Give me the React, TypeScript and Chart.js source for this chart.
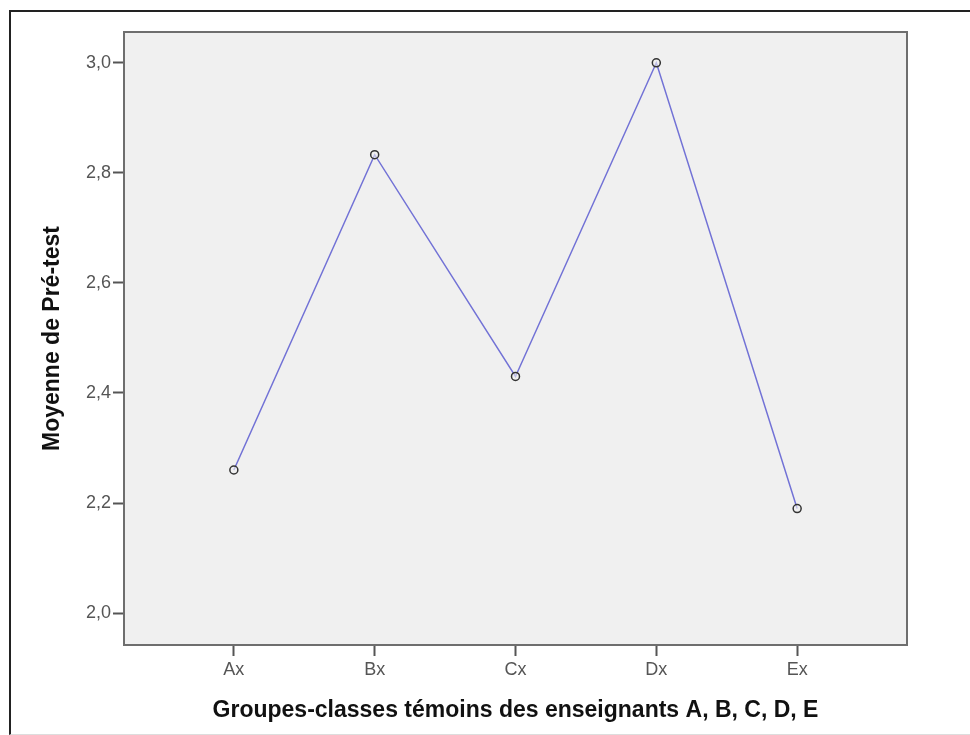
import React, { useEffect, useRef } from "react";
import { Chart, registerables } from "chart.js";

Chart.register(...registerables);

const categories = ["Ax", "Bx", "Cx", "Dx", "Ex"];
const means = [2.26, 2.833, 2.43, 3.0, 2.19];
const yTicks = [2.0, 2.2, 2.4, 2.6, 2.8, 3.0];
const xTitle = "Groupes-classes témoins des enseignants A, B, C, D, E";
const yTitle = "Moyenne de Pré-test";

const FONT = "'Liberation Sans', Arial, sans-serif";

const plotFrame = {
  id: "plotFrame",
  beforeDraw(chart: any) {
    const { ctx, chartArea } = chart;
    ctx.save();
    ctx.fillStyle = "#f0f0f0";
    ctx.fillRect(chartArea.left, chartArea.top, chartArea.right - chartArea.left, chartArea.bottom - chartArea.top);
    ctx.restore();
  },
  afterDatasetsDraw(chart: any) {
    const { ctx, chartArea } = chart;
    ctx.save();
    ctx.strokeStyle = "#6e6e6e";
    ctx.lineWidth = 2;
    ctx.strokeRect(chartArea.left, chartArea.top, chartArea.right - chartArea.left, chartArea.bottom - chartArea.top);
    ctx.restore();
  },
};

export default function App() {
  const ref = useRef<HTMLCanvasElement | null>(null);
  useEffect(() => {
    document.body.style.margin = "0";
    const canvas = ref.current;
    if (!canvas) return;
    const chart = new Chart(canvas, {
      type: "line",
      data: {
        datasets: [
          {
            data: means.map((v, i) => ({ x: i, y: v })),
            borderColor: "#7272d6",
            borderWidth: 1.5,
            pointRadius: 4,
            pointBorderColor: "#333333",
            pointBorderWidth: 1.5,
            pointBackgroundColor: "rgba(240,240,240,0.6)",
            tension: 0,
          },
        ],
      },
      options: {
        responsive: false,
        animation: false,
        events: [],
        layout: { padding: { left: 0, top: 32, right: 63, bottom: 0 } },
        plugins: { legend: { display: false }, tooltip: { enabled: false } },
        scales: {
          x: {
            type: "linear",
            min: -0.78,
            max: 4.78,
            afterBuildTicks: (s: any) => {
              s.ticks = categories.map((_, i) => ({ value: i }));
            },
            afterFit: (s: any) => {
              s.height = 90;
            },
            ticks: {
              callback: (v: any) => categories[Math.round(Number(v))] ?? "",
              font: { family: FONT, size: 18 },
              color: "#555555",
              padding: 3,
              maxRotation: 0,
              autoSkip: false,
            },
            grid: { drawOnChartArea: false, tickLength: 11, color: "#555555", tickWidth: 2 },
            border: { display: false },
            title: {
              display: true,
              text: xTitle,
              font: { family: FONT, size: 23, weight: "bold" },
              color: "#111111",
              padding: { top: 0, bottom: 11 },
            },
          },
          y: {
            type: "linear",
            min: 1.942,
            max: 3.056,
            afterBuildTicks: (s: any) => {
              s.ticks = yTicks.map((v) => ({ value: v }));
            },
            afterFit: (s: any) => {
              s.width = 124;
            },
            ticks: {
              callback: (v: any) => Number(v).toFixed(1).replace(".", ","),
              font: { family: FONT, size: 18 },
              color: "#555555",
              padding: 2,
            },
            grid: { drawOnChartArea: false, tickLength: 11, color: "#555555", tickWidth: 2 },
            border: { display: false },
            title: {
              display: true,
              text: yTitle,
              font: { family: FONT, size: 23, weight: "bold" },
              color: "#111111",
              padding: { top: 39, bottom: 0 },
            },
          },
        },
      },
      plugins: [plotFrame],
    } as any);
    return () => chart.destroy();
  }, []);

  return (
    <div style={{ position: "relative", width: 970, height: 735, overflow: "hidden", background: "#ffffff" }}>
      <canvas ref={ref} width={970} height={735} style={{ display: "block" }} />
      <div
        style={{
          position: "absolute",
          left: 9,
          top: 10,
          width: 980,
          height: 722,
          borderLeft: "2px solid #222222",
          borderTop: "2px solid #222222",
          borderBottom: "1px solid #dddddd",
          pointerEvents: "none",
        }}
      />
    </div>
  );
}
